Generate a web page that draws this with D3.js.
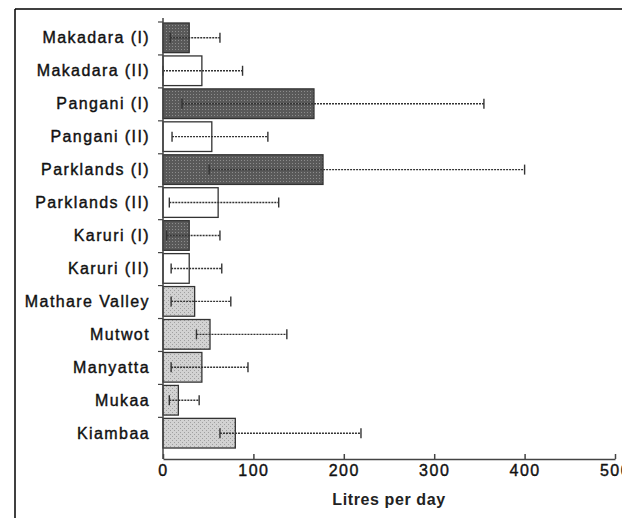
<!DOCTYPE html>
<html>
<head>
<meta charset="utf-8">
<script src="https://cdn.jsdelivr.net/npm/d3@7"></script>
<style>
  body { margin: 0; background: #fff; }
  svg { display: block; font-family: "Liberation Sans", Arial, sans-serif; }
</style>
</head>
<body>
<svg width="622" height="518"></svg>
<script>
// data
const sites = ['Makadara (I)', 'Makadara (II)', 'Pangani (I)', 'Pangani (II)', 'Parklands (I)',
  'Parklands (II)', 'Karuri (I)', 'Karuri (II)', 'Mathare Valley', 'Mutwot', 'Manyatta', 'Mukaa', 'Kiambaa'];
const means = [29, 43, 167, 54, 177, 61, 29, 29, 35, 52, 43, 17, 80];
const lows = [8, 0, 21, 10, 51, 7, 4, 9, 9, 37, 9, 7, 63];
const highs = [63, 88, 355, 116, 400, 128, 63, 65, 75, 137, 94, 40, 219];
const groups = ['I', 'II', 'I', 'II', 'I', 'II', 'I', 'II', 'other', 'other', 'other', 'other', 'other'];
const xTicks = [0, 100, 200, 300, 400, 500];

const svg = d3.select('svg');

// frame lines (top + left)
svg.append('line').attr('x1', 15).attr('x2', 622).attr('y1', 9).attr('y2', 9)
  .attr('stroke', '#000').attr('stroke-width', 1.5);
svg.append('line').attr('x1', 15).attr('x2', 15).attr('y1', 9).attr('y2', 518)
  .attr('stroke', '#000').attr('stroke-width', 1.5);

// fill textures
const defs = svg.append('defs');
const dark = defs.append('pattern').attr('id', 'dark').attr('patternUnits', 'userSpaceOnUse')
  .attr('width', 3).attr('height', 3);
dark.append('rect').attr('width', 3).attr('height', 3).attr('fill', '#595959');
dark.append('rect').attr('x', 1).attr('y', 1).attr('width', 1).attr('height', 1).attr('fill', '#8c8c8c');
const light = defs.append('pattern').attr('id', 'light').attr('patternUnits', 'userSpaceOnUse')
  .attr('width', 4).attr('height', 4);
light.append('rect').attr('width', 4).attr('height', 4).attr('fill', '#d2d2d2');
light.append('rect').attr('x', 0).attr('y', 0).attr('width', 1).attr('height', 1).attr('fill', '#a0a0a0');
light.append('rect').attr('x', 2).attr('y', 2).attr('width', 1).attr('height', 1).attr('fill', '#a0a0a0');
const fills = {I: 'url(#dark)', II: '#fff', other: 'url(#light)'};

const x = d3.scaleLinear().domain([0, 500]).range([163, 615]);
const y = d3.scaleBand().domain(sites).range([22, 449]).paddingInner(0.1).paddingOuter(0.03);

const data = sites.map((s, i) => ({site: s, mean: means[i], lo: lows[i], hi: highs[i], g: groups[i]}));

// bars
svg.append('g').selectAll('rect').data(data).join('rect')
  .attr('x', x(0))
  .attr('y', d => y(d.site))
  .attr('width', d => x(d.mean) - x(0))
  .attr('height', y.bandwidth())
  .attr('fill', d => fills[d.g])
  .attr('stroke', '#333')
  .attr('stroke-width', 1.3);

// error bars
const err = svg.append('g').attr('stroke', '#333').attr('stroke-width', 1.4);
data.forEach(d => {
  const cy = y(d.site) + y.bandwidth() / 2;
  err.append('line').attr('x1', x(d.lo)).attr('x2', x(d.hi)).attr('y1', cy).attr('y2', cy)
    .attr('stroke-dasharray', '2,1');
  [d.lo, d.hi].forEach(v => {
    err.append('line').attr('x1', x(v)).attr('x2', x(v)).attr('y1', cy - 5).attr('y2', cy + 5);
  });
});

// x axis
const xAxis = svg.append('g').attr('transform', 'translate(0,459)')
  .call(d3.axisBottom(x).tickValues(xTicks).tickSizeInner(-5).tickSizeOuter(0).tickPadding(6));
xAxis.select('.domain').attr('stroke', '#444').attr('stroke-width', 1.5);
xAxis.selectAll('.tick line').attr('stroke', '#444').attr('stroke-width', 1.5);
xAxis.selectAll('text').attr('font-size', 16).attr('fill', '#111')
  .attr('stroke', '#111').attr('stroke-width', 0.4)
  .attr('font-family', '"Liberation Sans", Arial, sans-serif').attr('letter-spacing', 1.5);

// y axis: line + ticks at band tops
const yAxis = svg.append('g');
yAxis.append('line').attr('x1', x(0)).attr('x2', x(0)).attr('y1', 18).attr('y2', 459)
  .attr('stroke', '#444').attr('stroke-width', 1.5);
yAxis.selectAll('line.tk').data(sites).join('line').attr('class', 'tk')
  .attr('x1', x(0) - 5).attr('x2', x(0))
  .attr('y1', d => y(d) - 1).attr('y2', d => y(d) - 1)
  .attr('stroke', '#444').attr('stroke-width', 1.2);
yAxis.selectAll('text').data(sites).join('text')
  .attr('x', 150)
  .attr('y', d => y(d) + y.bandwidth() / 2)
  .attr('dy', '0.35em')
  .attr('text-anchor', 'end')
  .attr('font-size', 16)
  .attr('letter-spacing', 1.4)
  .attr('fill', '#111')
  .attr('stroke', '#111')
  .attr('stroke-width', 0.4)
  .text(d => d);

// axis title
svg.append('text').attr('x', 389).attr('y', 505).attr('text-anchor', 'middle')
  .attr('font-size', 16).attr('font-weight', 'bold').attr('letter-spacing', 0.6)
  .attr('fill', '#222').text('Litres per day');
</script>
</body>
</html>
